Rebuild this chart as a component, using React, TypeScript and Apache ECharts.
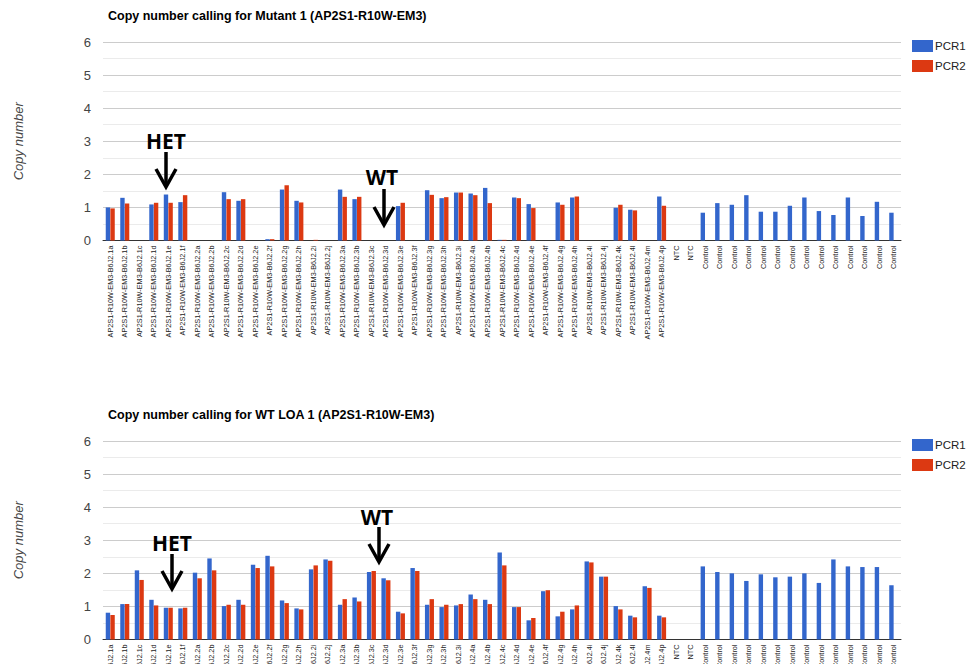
import React, { useEffect, useRef } from "react";
import * as echarts from "echarts";

const prefix = "AP2S1-R10W-EM3-B6J2.";
const sampleIds = [
  "1a", "1b", "1c", "1d", "1e", "1f",
  "2a", "2b", "2c", "2d", "2e", "2f", "2g", "2h", "2i", "2j",
  "3a", "3b", "3c", "3d", "3e", "3f", "3g", "3h", "3i",
  "4a", "4b", "4c", "4d", "4e", "4f", "4g", "4h", "4i", "4j", "4k", "4l", "4m", "4p",
];
const ntcLabels = ["NTC", "NTC"];
const controlLabels = [
  "Control", "Control", "Control", "Control", "Control", "Control", "Control",
  "Control", "Control", "Control", "Control", "Control", "Control", "Control",
];
const categories = sampleIds.map((s) => prefix + s).concat(ntcLabels, controlLabels);

const yTicks = [0, 6, 1];
const seriesNames = ["PCR1", "PCR2"];
const titles = [
  "Copy number calling for Mutant 1 (AP2S1-R10W-EM3)",
  "Copy number calling for WT LOA 1 (AP2S1-R10W-EM3)",
];

// Mutant 1 chart
const mutantPCR1 = [
  1.0, 1.29, null, 1.09, 1.39, 1.16,
  null, null, 1.46, 1.2, null, 0.04, 1.54, 1.2, null, null,
  1.54, 1.25, null, null, 1.04, null, 1.52, 1.28, 1.45,
  1.42, 1.59, 0.02, 1.3, 1.1, null, 1.15, 1.3, null, null, 0.99, 0.93, null, 1.33,
  null, null,
  0.84, 1.13, 1.08, 1.37, 0.87, 0.87, 1.05, 1.3, 0.89, 0.77, 1.3, 0.74, 1.17, 0.84,
];
const mutantPCR2 = [
  0.97, 1.12, null, 1.14, 1.14, 1.37,
  null, null, 1.25, 1.25, null, 0.04, 1.67, 1.15, 0.02, null,
  1.32, 1.32, null, null, 1.14, null, 1.38, 1.31, 1.45,
  1.37, 1.13, 0.02, 1.28, 0.98, null, 1.08, 1.33, null, null, 1.08, 0.91, null, 1.05,
  null, null,
  null, null, null, null, null, null, null, null, null, null, null, null, null, null,
];

// WT LOA 1 chart
const wtPCR1 = [
  0.81, 1.07, 2.09, 1.2, 0.96, 0.94,
  2.02, 2.45, 1.01, 1.2, 2.26, 2.53, 1.18, 0.94, 2.12, 2.42,
  1.05, 1.27, 2.04, 1.85, 0.84, 2.16, 1.05, 0.98, 1.03,
  1.36, 1.2, 2.63, 0.98, 0.58, 1.46, 0.7, 0.91, 2.36, 1.9, 1.01, 0.72, 1.61, 0.72,
  null, null,
  2.21, 2.04, 2.0, 1.77, 1.97, 1.88, 1.9, 2.0, 1.71, 2.42, 2.21, 2.19, 2.19, 1.64,
];
const wtPCR2 = [
  0.74, 1.07, 1.8, 1.03, 0.96, 0.96,
  1.85, 2.09, 1.05, 1.05, 2.16, 2.21, 1.1, 0.91, 2.24, 2.38,
  1.22, 1.15, 2.07, 1.79, 0.79, 2.07, 1.22, 1.05, 1.07,
  1.22, 1.07, 2.24, 0.98, 0.65, 1.49, 0.84, 1.03, 2.33, 1.9, 0.91, 0.67, 1.56, 0.67,
  null, null,
  null, null, null, null, null, null, null, null, null, null, null, null, null, null,
];

const annotations = [
  { text: "HET", tx: 166, ty: 141, ax: 166, y1: 152, y2: 188 },
  { text: "WT", tx: 382, ty: 177, ax: 384, y1: 189, y2: 226 },
  { text: "HET", tx: 172, ty: 543, ax: 172, y1: 554, y2: 590 },
  { text: "WT", tx: 377, ty: 517, ax: 379, y1: 527, y2: 563 },
];

const FONT = "Arial, 'Liberation Sans', sans-serif";
const BLUE = "#3366cc";
const RED = "#dc3912";

export default function App() {
  const ref = useRef<HTMLDivElement>(null);
  useEffect(() => {
    if (!ref.current) return;
    const chart = echarts.init(ref.current, null, { renderer: "svg" });
    const gridTops = [42, 441];
    const grids = gridTops.map((t) => ({
      left: 103,
      top: t,
      width: 798,
      height: 198.5,
      containLabel: false,
      outerBoundsMode: "none",
    }));
    const xAxes = gridTops.map((_, i) => ({
      type: "category",
      gridIndex: i,
      data: categories,
      axisTick: { show: false },
      axisLine: { show: true, lineStyle: { color: "#333", width: 1 } },
      axisLabel: {
        interval: 0,
        rotate: 90,
        fontSize: 7.3,
        color: "#222",
        fontFamily: FONT,
        margin: 5,
      },
    }));
    const yAxes = gridTops.map((_, i) => ({
      type: "value",
      gridIndex: i,
      min: yTicks[0],
      max: yTicks[1],
      interval: yTicks[2],
      name: "Copy number",
      nameLocation: "middle",
      nameGap: 78,
      nameTextStyle: { fontStyle: "italic", fontSize: 13, color: "#444", fontFamily: FONT },
      axisLine: { show: false },
      axisTick: { show: false },
      axisLabel: { fontSize: 13, color: "#444", fontFamily: FONT, margin: 12 },
      splitLine: { lineStyle: { color: "#cccccc" } },
      minorTick: { show: false, splitNumber: 2 },
      minorSplitLine: { show: true, lineStyle: { color: "#ebebeb" } },
    }));
    const dataSets = [
      [mutantPCR1, mutantPCR2],
      [wtPCR1, wtPCR2],
    ];
    const series: any[] = [];
    dataSets.forEach((pair, gi) => {
      pair.forEach((d, si) => {
        series.push({
          type: "bar",
          name: seriesNames[si],
          xAxisIndex: gi,
          yAxisIndex: gi,
          data: d,
          barWidth: 4.4,
          barGap: "5%",
          itemStyle: { color: si === 0 ? BLUE : RED },
        });
      });
    });
    const graphic: any[] = [];
    annotations.forEach((a) => {
      graphic.push({
        type: "text",
        z: 100,
        style: {
          text: a.text,
          x: a.tx,
          y: a.ty,
          align: "center",
          verticalAlign: "middle",
          font: "bold 21px 'Open Sans', 'Liberation Sans', sans-serif",
          fill: "#000",
        },
      });
      graphic.push({
        type: "line",
        z: 100,
        shape: { x1: a.ax, y1: a.y1, x2: a.ax, y2: a.y2 - 2 },
        style: { stroke: "#000", lineWidth: 3.5 },
      });
      graphic.push({
        type: "polyline",
        z: 100,
        shape: {
          points: [
            [a.ax - 10, a.y2 - 19],
            [a.ax, a.y2 - 1],
            [a.ax + 10, a.y2 - 19],
          ],
        },
        style: { stroke: "#000", lineWidth: 3.5, fill: null, lineJoin: "miter" },
      });
    });
    chart.setOption({
      animation: false,
      backgroundColor: "#fff",
      title: titles.map((t, i) => ({
        text: t,
        left: 103,
        top: gridTops[i] - 38,
        textStyle: { fontSize: 12.5, fontWeight: "bold", color: "#000", fontFamily: FONT },
      })),
      legend: gridTops.map((t) => ({
        orient: "vertical",
        left: 912,
        top: t - 2,
        padding: 0,
        itemWidth: 21,
        itemHeight: 12,
        itemGap: 8,
        icon: "rect",
        textStyle: { fontSize: 11.5, color: "#222", fontFamily: FONT, padding: [0, 0, 0, -3] },
        data: seriesNames,
      })),
      grid: grids,
      xAxis: xAxes,
      yAxis: yAxes,
      series,
      graphic,
    });
    return () => chart.dispose();
  }, []);
  return (
    <div
      ref={ref}
      style={{ position: "fixed", left: 0, top: 0, width: 970, height: 664, background: "#fff" }}
    />
  );
}
